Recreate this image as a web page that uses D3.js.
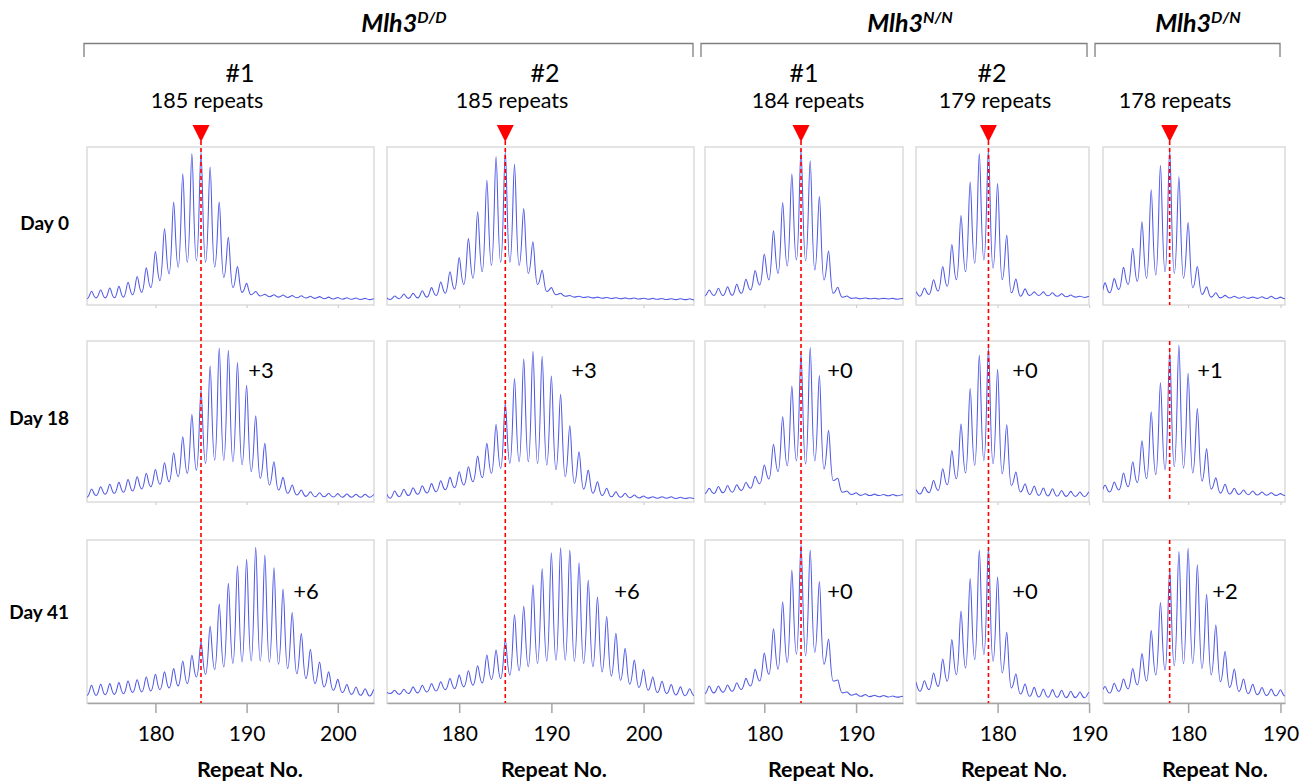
<!DOCTYPE html>
<html><head><meta charset="utf-8">
<script src="https://cdn.jsdelivr.net/npm/d3@7"></script>
<style>
body{margin:0;background:#fff;}
svg{display:block;font-family:Lato,"Open Sans","Liberation Sans",sans-serif;}
</style></head><body>
<svg id="chart" width="1312" height="784"></svg>
<script>
// ---------------- DATA ----------------
const days = ["Day 0", "Day 18", "Day 41"];
const genotypeSup = ["D/D", "N/N", "D/N"];
const genotypeCols = [[0, 1], [2, 3], [4]];
const cloneLabels = ["#1", "#2", "#1", "#2", ""];
const startRepeats = [185, 185, 184, 179, 178];
const xDomains = [[172.5, 203.97], [172.17, 205.47], [173.54, 195.11], [171.08, 189.99], [170.78, 190.49]];
const xTicks = [[180, 190, 200], [180, 190, 200], [180, 190], [180, 190], [180, 190]];
const shiftLabels = [[null, "+3", "+6"], [null, "+3", "+6"], [null, "+0", "+0"], [null, "+0", "+0"], [null, "+1", "+2"]];
// first repeat of each trace (column x day)
const traceStart = [[173, 173, 173], [172, 172, 172], [174, 174, 174], [171, 171, 171], [171, 171, 171]];

// peak heights (fraction of panel height) per repeat, and valley heights between repeats
const peaks_c1_d0 = [0.087,0.097,0.108,0.118,0.144,0.18,0.235,0.338,0.482,0.651,0.831,0.958,0.968,0.873,0.651,0.429,0.243,0.137,0.085,0.068,0.065,0.063,0.06,0.058,0.055,0.053,0.05,0.048,0.046,0.044,0.042,0.04];
const valleys_c1_d0 = [0.04,0.045,0.045,0.046,0.05,0.065,0.08,0.11,0.154,0.197,0.239,0.27,0.28,0.27,0.24,0.175,0.11,0.08,0.065,0.057,0.052,0.05,0.048,0.046,0.044,0.042,0.04,0.038,0.037,0.036,0.035,0.034,0.033];
const peaks_c1_d18 = [0.081,0.095,0.11,0.122,0.14,0.157,0.178,0.202,0.244,0.306,0.405,0.543,0.694,0.845,0.957,0.942,0.866,0.725,0.535,0.364,0.25,0.153,0.105,0.074,0.064,0.058,0.054,0.052,0.05,0.048,0.048,0.047];
const valleys_c1_d18 = [0.03,0.04,0.048,0.054,0.06,0.068,0.081,0.095,0.11,0.126,0.157,0.178,0.198,0.24,0.26,0.26,0.25,0.23,0.188,0.147,0.105,0.074,0.054,0.043,0.035,0.033,0.032,0.031,0.03,0.03,0.03,0.03,0.03];
const peaks_c1_d41 = [0.109,0.115,0.119,0.125,0.135,0.143,0.16,0.176,0.191,0.211,0.258,0.293,0.375,0.471,0.607,0.734,0.842,0.881,0.955,0.908,0.83,0.699,0.555,0.426,0.33,0.252,0.191,0.145,0.113,0.098,0.088,0.085];
const valleys_c1_d41 = [0.047,0.047,0.051,0.053,0.057,0.064,0.068,0.074,0.082,0.092,0.105,0.119,0.16,0.176,0.205,0.221,0.242,0.252,0.258,0.258,0.252,0.238,0.211,0.18,0.15,0.119,0.098,0.078,0.064,0.053,0.047,0.043,0.042];

const peaks_c2_d0 = [0.05,0.057,0.07,0.075,0.09,0.11,0.145,0.21,0.30,0.42,0.59,0.79,0.94,0.97,0.89,0.61,0.40,0.22,0.11,0.075,0.06,0.055,0.052,0.05,0.048,0.046,0.045,0.044,0.043,0.042,0.041,0.04,0.04,0.039];
const valleys_c2_d0 = [0.035,0.035,0.04,0.042,0.045,0.05,0.06,0.075,0.1,0.13,0.17,0.21,0.25,0.27,0.27,0.25,0.2,0.13,0.085,0.065,0.055,0.05,0.047,0.045,0.043,0.041,0.04,0.039,0.038,0.037,0.036,0.035,0.034,0.034,0.033];
const peaks_c2_d18 = [0.06,0.068,0.079,0.089,0.101,0.114,0.132,0.153,0.188,0.219,0.285,0.364,0.481,0.612,0.767,0.89,0.936,0.905,0.783,0.669,0.473,0.312,0.198,0.126,0.085,0.064,0.054,0.043,0.037,0.033,0.033,0.033,0.029,0.027];
const valleys_c2_d18 = [0.023,0.023,0.033,0.04,0.048,0.056,0.064,0.076,0.089,0.105,0.126,0.151,0.178,0.209,0.24,0.25,0.25,0.24,0.23,0.2,0.157,0.116,0.08,0.054,0.04,0.032,0.029,0.027,0.025,0.024,0.023,0.023,0.022,0.022,0.022];
const peaks_c2_d41 = [0.07,0.078,0.084,0.099,0.109,0.119,0.13,0.15,0.171,0.198,0.228,0.294,0.325,0.387,0.541,0.593,0.726,0.823,0.922,0.953,0.938,0.86,0.753,0.65,0.531,0.428,0.335,0.263,0.206,0.16,0.134,0.113,0.099,0.088];
const valleys_c2_d41 = [0.058,0.058,0.053,0.058,0.062,0.068,0.074,0.082,0.088,0.099,0.109,0.123,0.144,0.15,0.171,0.198,0.222,0.243,0.257,0.263,0.263,0.257,0.243,0.222,0.191,0.165,0.14,0.115,0.095,0.078,0.064,0.058,0.049,0.045,0.044];

const peaks_c3_d0 = [0.095,0.106,0.116,0.131,0.163,0.218,0.323,0.469,0.649,0.829,0.983,0.913,0.687,0.342,0.112,0.057,0.045,0.044,0.043,0.042,0.042,0.041];
const valleys_c3_d0 = [0.057,0.06,0.06,0.062,0.074,0.095,0.127,0.159,0.2,0.247,0.285,0.28,0.222,0.159,0.074,0.049,0.042,0.04,0.039,0.038,0.038,0.037,0.037];
const peaks_c3_d18 = [0.086,0.096,0.102,0.107,0.123,0.16,0.23,0.359,0.529,0.721,0.922,0.959,0.785,0.445,0.148,0.068,0.057,0.051,0.049,0.047,0.047,0.045];
const valleys_c3_d18 = [0.051,0.053,0.057,0.061,0.072,0.086,0.113,0.143,0.189,0.225,0.256,0.236,0.256,0.205,0.133,0.061,0.047,0.041,0.04,0.04,0.039,0.039,0.038];
const peaks_c3_d41 = [0.104,0.104,0.11,0.124,0.151,0.207,0.306,0.455,0.621,0.814,0.973,0.938,0.745,0.393,0.141,0.068,0.056,0.052,0.048,0.046,0.043,0.041];
const valleys_c3_d41 = [0.056,0.062,0.066,0.072,0.083,0.104,0.135,0.176,0.207,0.248,0.3,0.29,0.31,0.238,0.135,0.062,0.048,0.041,0.039,0.038,0.037,0.036,0.036];

const peaks_c4_d0 = [0.088,0.108,0.16,0.244,0.383,0.567,0.779,0.958,0.983,0.769,0.442,0.165,0.102,0.083,0.083,0.077,0.071,0.063,0.056,0.055];
const valleys_c4_d0 = [0.06,0.056,0.067,0.088,0.119,0.16,0.21,0.265,0.285,0.233,0.16,0.077,0.056,0.06,0.06,0.058,0.055,0.052,0.05,0.048,0.047];
const peaks_c4_d18 = [0.08,0.093,0.134,0.206,0.32,0.485,0.705,0.913,0.955,0.825,0.48,0.186,0.113,0.099,0.087,0.082,0.072,0.066,0.062,0.062];
const valleys_c4_d18 = [0.05,0.05,0.058,0.072,0.107,0.144,0.181,0.227,0.258,0.237,0.175,0.103,0.062,0.047,0.041,0.038,0.036,0.035,0.034,0.033,0.033];
const peaks_c4_d41 = [0.133,0.137,0.184,0.27,0.389,0.564,0.764,0.939,0.953,0.773,0.434,0.178,0.117,0.096,0.086,0.082,0.078,0.072,0.068,0.066];
const valleys_c4_d41 = [0.1,0.072,0.082,0.102,0.133,0.174,0.215,0.266,0.297,0.256,0.184,0.092,0.055,0.041,0.037,0.035,0.035,0.033,0.033,0.032,0.032];

const peaks_c5_d0 = [0.14,0.167,0.238,0.359,0.526,0.729,0.885,0.98,0.812,0.522,0.244,0.115,0.077,0.061,0.056,0.052,0.05,0.052,0.056,0.05];
const valleys_c5_d0 = [0.067,0.077,0.098,0.13,0.15,0.17,0.19,0.21,0.2,0.17,0.109,0.067,0.05,0.045,0.044,0.043,0.042,0.042,0.041,0.04,0.04];
const peaks_c5_d18 = [0.105,0.124,0.18,0.25,0.38,0.56,0.74,0.93,0.975,0.8,0.58,0.33,0.15,0.11,0.085,0.075,0.068,0.062,0.058,0.052];
const valleys_c5_d18 = [0.06,0.062,0.075,0.095,0.12,0.145,0.17,0.2,0.22,0.21,0.18,0.13,0.08,0.055,0.05,0.047,0.045,0.043,0.042,0.041,0.04];
const peaks_c5_d41 = [0.101,0.121,0.147,0.212,0.303,0.444,0.616,0.818,0.929,0.949,0.848,0.667,0.479,0.317,0.208,0.147,0.115,0.095,0.085,0.081];
const valleys_c5_d41 = [0.071,0.061,0.071,0.087,0.111,0.135,0.172,0.202,0.228,0.242,0.242,0.212,0.172,0.131,0.095,0.071,0.057,0.051,0.046,0.044,0.043];

const peakTable = [
  [peaks_c1_d0, peaks_c1_d18, peaks_c1_d41],
  [peaks_c2_d0, peaks_c2_d18, peaks_c2_d41],
  [peaks_c3_d0, peaks_c3_d18, peaks_c3_d41],
  [peaks_c4_d0, peaks_c4_d18, peaks_c4_d41],
  [peaks_c5_d0, peaks_c5_d18, peaks_c5_d41]];
const valleyTable = [
  [valleys_c1_d0, valleys_c1_d18, valleys_c1_d41],
  [valleys_c2_d0, valleys_c2_d18, valleys_c2_d41],
  [valleys_c3_d0, valleys_c3_d18, valleys_c3_d41],
  [valleys_c4_d0, valleys_c4_d18, valleys_c4_d41],
  [valleys_c5_d0, valleys_c5_d18, valleys_c5_d41]];

// ---------------- LAYOUT ----------------
const colX = [[87, 374], [387, 694], [705, 903], [916, 1089], [1103, 1285]];
const rowY = [[147, 305], [341, 502], [540, 703]];
const bracketX = [[84, 693], [701, 1087], [1095, 1280]];
const titleCX = [404, 910, 1198];
const cloneCX = [240, 545, 804, 992, null];
const repeatsCX = [207, 512, 808, 995, 1175];
const shiftCX = [[null, 261, 306], [null, 584, 627], [null, 840, 840], [null, 1025, 1025], [null, 1210, 1225]];
const axisTitleCX = [250, 554, 821, 1014, 1215];
const rowLabelY = [230, 425, 619];
const fontMain = 'Lato,"Open Sans","Liberation Sans",sans-serif';

const svg = d3.select("#chart");
const TRACE = "#5059e6", RED = "#ff0000";

// custom curve: broad valleys, narrower peak tops
function PeakCurve(ctx) { this._context = ctx; }
PeakCurve.prototype = {
  areaStart() { this._line = 0; }, areaEnd() { this._line = NaN; },
  lineStart() { this._point = 0; }, lineEnd() {},
  point(x, y) {
    x = +x; y = +y;
    if (this._point === 0) { this._point = 1; this._context.moveTo(x, y); }
    else {
      const dx = x - this._x0, up = y < this._y0;
      const a = up ? 0.55 : 0.3, b = up ? 0.3 : 0.55;
      this._context.bezierCurveTo(this._x0 + a * dx, this._y0, x - b * dx, y, x, y);
    }
    this._x0 = x; this._y0 = y;
  }
};
const peakCurve = ctx => new PeakCurve(ctx);

// ---------------- HEADERS ----------------
genotypeSup.forEach((sup, g) => {
  const t = svg.append("text").attr("x", titleCX[g]).attr("y", 32).attr("text-anchor", "middle")
    .style("font-family", fontMain).style("font-weight", "bold").style("font-style", "italic")
    .style("font-size", "25px").attr("fill", "#000");
  t.append("tspan").text("Mlh3");
  t.append("tspan").attr("dy", -9).style("font-size", "16px").text(sup);
  const [x0, x1] = bracketX[g];
  svg.append("path").attr("d", `M${x0},57V43.5H${x1}V57`).attr("fill", "none")
    .attr("stroke", "#7f7f7f").attr("stroke-width", 1.3);
});

cloneLabels.forEach((lab, c) => {
  if (lab) svg.append("text").attr("x", cloneCX[c]).attr("y", 82).attr("text-anchor", "middle")
    .style("font-size", "25px").attr("fill", "#000").text(lab);
  svg.append("text").attr("x", repeatsCX[c]).attr("y", 108).attr("text-anchor", "middle")
    .style("font-size", "21.5px").attr("fill", "#000").text(startRepeats[c] + " repeats");
});

days.forEach((d, r) => {
  svg.append("text").attr("x", 69).attr("y", rowLabelY[r]).attr("text-anchor", "end")
    .style("font-size", "19px").style("font-weight", "bold").attr("fill", "#000").text(d);
});

// ---------------- PANELS ----------------
const defs = svg.append("defs");
colX.forEach((cx, c) => {
  const x = d3.scaleLinear().domain(xDomains[c]).range(cx);
  rowY.forEach((ry, r) => {
    const y = d3.scaleLinear().domain([0, 1]).range([ry[1], ry[0]]);
    const g = svg.append("g");
    const clipId = `clip-${c}-${r}`;
    defs.append("clipPath").attr("id", clipId).append("rect")
      .attr("x", cx[0]).attr("y", ry[0]).attr("width", cx[1] - cx[0]).attr("height", ry[1] - ry[0]);
    g.append("rect").attr("x", cx[0]).attr("y", ry[0]).attr("width", cx[1] - cx[0]).attr("height", ry[1] - ry[0])
      .attr("fill", "#fff").attr("stroke", "#d9d9d9").attr("stroke-width", 1.4);

    // trace points: valley, peak, valley, ...
    const r0 = traceStart[c][r], pk = peakTable[c][r], vl = valleyTable[c][r];
    const pts = [];
    vl.forEach((v, i) => {
      pts.push([r0 + i - 0.5, v]);
      if (i < pk.length) pts.push([r0 + i, pk[i]]);
    });
    const line = d3.line().x(d => x(d[0])).y(d => y(d[1])).curve(peakCurve);
    g.append("path").attr("clip-path", `url(#${clipId})`).attr("d", line(pts))
      .attr("fill", "none").attr("stroke", TRACE).attr("stroke-width", 1.05).attr("stroke-linejoin", "round");

    // axis
    const ax = g.append("g").attr("transform", `translate(0,${ry[1]})`);
    if (r === 2) {
      ax.call(d3.axisBottom(x).tickValues(xTicks[c]).tickSize(10).tickSizeOuter(0).tickPadding(13).tickFormat(d3.format("d")));
      ax.select(".domain").attr("stroke", "#a6a6a6").attr("stroke-width", 1.5);
      ax.selectAll(".tick line").attr("stroke", "#a6a6a6").attr("stroke-width", 1.5);
      ax.selectAll(".tick text").style("font-size", "21px").style("font-family", fontMain).attr("fill", "#000");
    } else {
      ax.call(d3.axisBottom(x).tickValues(xTicks[c]).tickSize(3).tickSizeOuter(0).tickFormat(""));
      ax.select(".domain").remove();
      ax.selectAll(".tick line").attr("stroke", "#cfcfcf").attr("stroke-width", 1.2);
    }

    // shift label
    const s = shiftLabels[c][r];
    if (s) svg.append("text").attr("x", shiftCX[c][r]).attr("y", r === 1 ? 378 : 599).attr("text-anchor", "middle")
      .style("font-size", "22px").attr("fill", "#000").text(s);
  });

  // red marker line + triangle
  const xm = x(startRepeats[c]);
  const segs = c === 4 ? [[141, rowY[0][1]], [rowY[1][0], rowY[1][1]], [rowY[2][0], rowY[2][1]]] : [[141, rowY[2][1]]];
  segs.forEach(([a, b]) => {
    svg.append("line").attr("x1", xm).attr("x2", xm).attr("y1", a).attr("y2", b)
      .attr("stroke", RED).attr("stroke-width", 1.6).attr("stroke-dasharray", "4,3");
  });
  svg.append("path").attr("d", `M${xm - 8.5},125L${xm + 8.5},125L${xm},142Z`).attr("fill", RED);

  svg.append("text").attr("x", axisTitleCX[c]).attr("y", 777).attr("text-anchor", "middle")
    .style("font-size", "21.5px").style("font-weight", "bold").attr("fill", "#000").text("Repeat No.");
});
</script>
</body></html>
